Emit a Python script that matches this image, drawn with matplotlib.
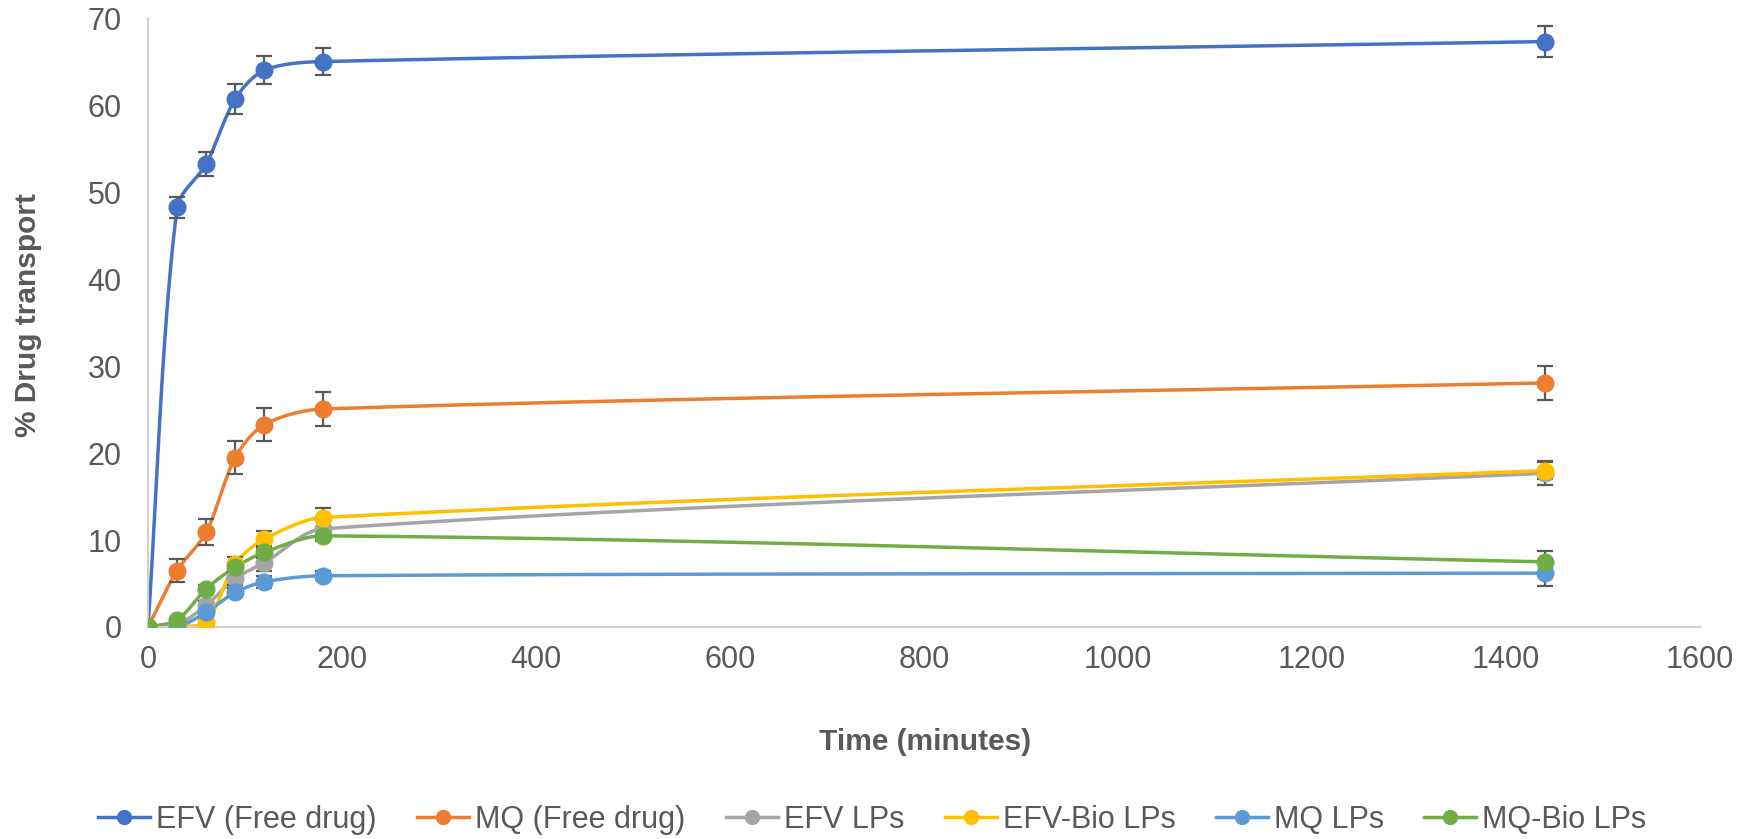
import numpy as np
import matplotlib
matplotlib.use("Agg")
import matplotlib.pyplot as plt
from matplotlib.lines import Line2D

plt.rcParams['font.family'] = ['Liberation Sans', 'DejaVu Sans']

# Sampling times (minutes)
time_min = [0, 30, 60, 90, 120, 180, 1440]

series_names = ["EFV (Free drug)", "MQ (Free drug)", "EFV LPs",
                "EFV-Bio LPs", "MQ LPs", "MQ-Bio LPs"]

efv_free = [0.0, 48.3, 53.3, 60.8, 64.1, 65.1, 67.4]
mq_free = [0.0, 6.5, 10.9, 19.5, 23.3, 25.1, 28.1]
efv_lps = [0.0, 0.3, 2.5, 5.6, 7.4, 11.3, 17.7]
efv_bio_lps = [0.0, 0.1, 0.6, 7.3, 10.1, 12.6, 18.0]
mq_lps = [0.0, 0.0, 1.7, 4.0, 5.2, 5.9, 6.2]
mq_bio_lps = [0.0, 0.8, 4.4, 6.9, 8.6, 10.5, 7.5]

efv_free_err = [0.0, 1.2, 1.4, 1.7, 1.6, 1.6, 1.8]
mq_free_err = [0.0, 1.3, 1.5, 1.9, 1.9, 2.0, 2.0]
efv_lps_err = [0.0, 0.2, 0.5, 0.8, 0.9, 1.0, 1.4]
efv_bio_lps_err = [0.0, 0.1, 0.3, 0.8, 1.0, 1.1, 1.0]
mq_lps_err = [0.0, 0.1, 0.4, 0.5, 0.7, 0.5, 1.5]
mq_bio_lps_err = [0.0, 0.2, 0.4, 0.6, 0.7, 0.6, 1.3]

values = [efv_free, mq_free, efv_lps, efv_bio_lps, mq_lps, mq_bio_lps]
errors = [efv_free_err, mq_free_err, efv_lps_err, efv_bio_lps_err,
          mq_lps_err, mq_bio_lps_err]
colors = ["#4472C4", "#ED7D31", "#A5A5A5", "#FFC000", "#5B9BD5", "#70AD47"]

x_ticks = [0, 200, 400, 600, 800, 1000, 1200, 1400, 1600]
y_ticks = [0, 10, 20, 30, 40, 50, 60, 70]

W, H = 1756, 839
fig = plt.figure(figsize=(W / 100, H / 100), dpi=100)
ax_l, ax_r, ax_t, ax_b = 148, 1700, 19, 627
ax = fig.add_axes([ax_l / W, 1 - ax_b / H, (ax_r - ax_l) / W, (ax_b - ax_t) / H])
ax.set_xlim(0, 1600)
ax.set_ylim(0, 70)


def smooth_curve(xs, ys, sx, sy, n=80, k=0.3):
    """Bezier smoothing in screen units; control arms follow the chord
    through neighbours and scale with each segment's own length."""
    p = np.column_stack([np.asarray(xs, float) * sx, np.asarray(ys, float) * sy])
    m = len(p)
    tang = []
    for i in range(m):
        a = p[i - 1] if i > 0 else p[i]
        b = p[i + 1] if i + 1 < m else p[i]
        d = b - a
        tang.append(d / (np.hypot(*d) or 1.0))
    out = [p[0]]
    t = np.linspace(0, 1, n)[1:, None]
    for i in range(m - 1):
        L = np.hypot(*(p[i + 1] - p[i]))
        c1 = p[i] + tang[i] * L * k
        c2 = p[i + 1] - tang[i + 1] * L * k
        seg = ((1 - t) ** 3) * p[i] + 3 * ((1 - t) ** 2) * t * c1 \
            + 3 * (1 - t) * t ** 2 * c2 + t ** 3 * p[i + 1]
        out.extend(seg)
    out = np.array(out)
    return out[:, 0] / sx, out[:, 1] / sy


sx = (ax_r - ax_l) / 1600.0
sy = (ax_b - ax_t) / 70.0

for vals, errs, col in zip(values, errors, colors):
    cx, cy = smooth_curve(time_min, vals, sx, sy)
    ax.plot(cx, cy, color=col, lw=2.5, solid_capstyle="round", zorder=2)
    ax.errorbar(time_min, vals, yerr=errs, fmt="none", ecolor="#595959",
                elinewidth=1.6, capsize=6, capthick=1.6, zorder=3)
    ax.plot(time_min, vals, "o", color=col, ms=12, zorder=4)

for s in ["top", "right"]:
    ax.spines[s].set_visible(False)
for s in ["left", "bottom"]:
    ax.spines[s].set_color("#D0D0D0")
    ax.spines[s].set_linewidth(1.5)

ax.set_xticks(x_ticks)
ax.set_yticks(y_ticks)
ax.tick_params(length=0, labelsize=22, labelcolor="#595959")
ax.tick_params(axis="y", pad=19)
ax.tick_params(axis="x", pad=13)

ax.set_xlabel("Time (minutes)", fontsize=21.5, fontweight="bold", color="#595959")
ax.xaxis.set_label_coords(((W / 2 + 47) - ax_l) / (ax_r - ax_l),
                          -(742 - ax_b) / (ax_b - ax_t))
ax.xaxis.label.set_va("center")
ax.set_ylabel("% Drug transport", fontsize=21.5, fontweight="bold", color="#595959")
ax.yaxis.set_label_coords(-(ax_l - 28) / (ax_r - ax_l), (ax_b - 315) / (ax_b - ax_t))
ax.yaxis.label.set_va("center")
ax.yaxis.label.set_ha("center")

handles = [Line2D([0], [0], color=c, lw=2.5, marker="o", ms=10) for c in colors]
fig.legend(handles, series_names, loc="center", ncol=6,
           bbox_to_anchor=(872.5 / W, 1 - 820 / H), frameon=False, fontsize=22,
           labelcolor="#595959", handlelength=1.7, columnspacing=1.32,
           handletextpad=0.2, borderpad=0)

fig.savefig("out.png", dpi=100)
